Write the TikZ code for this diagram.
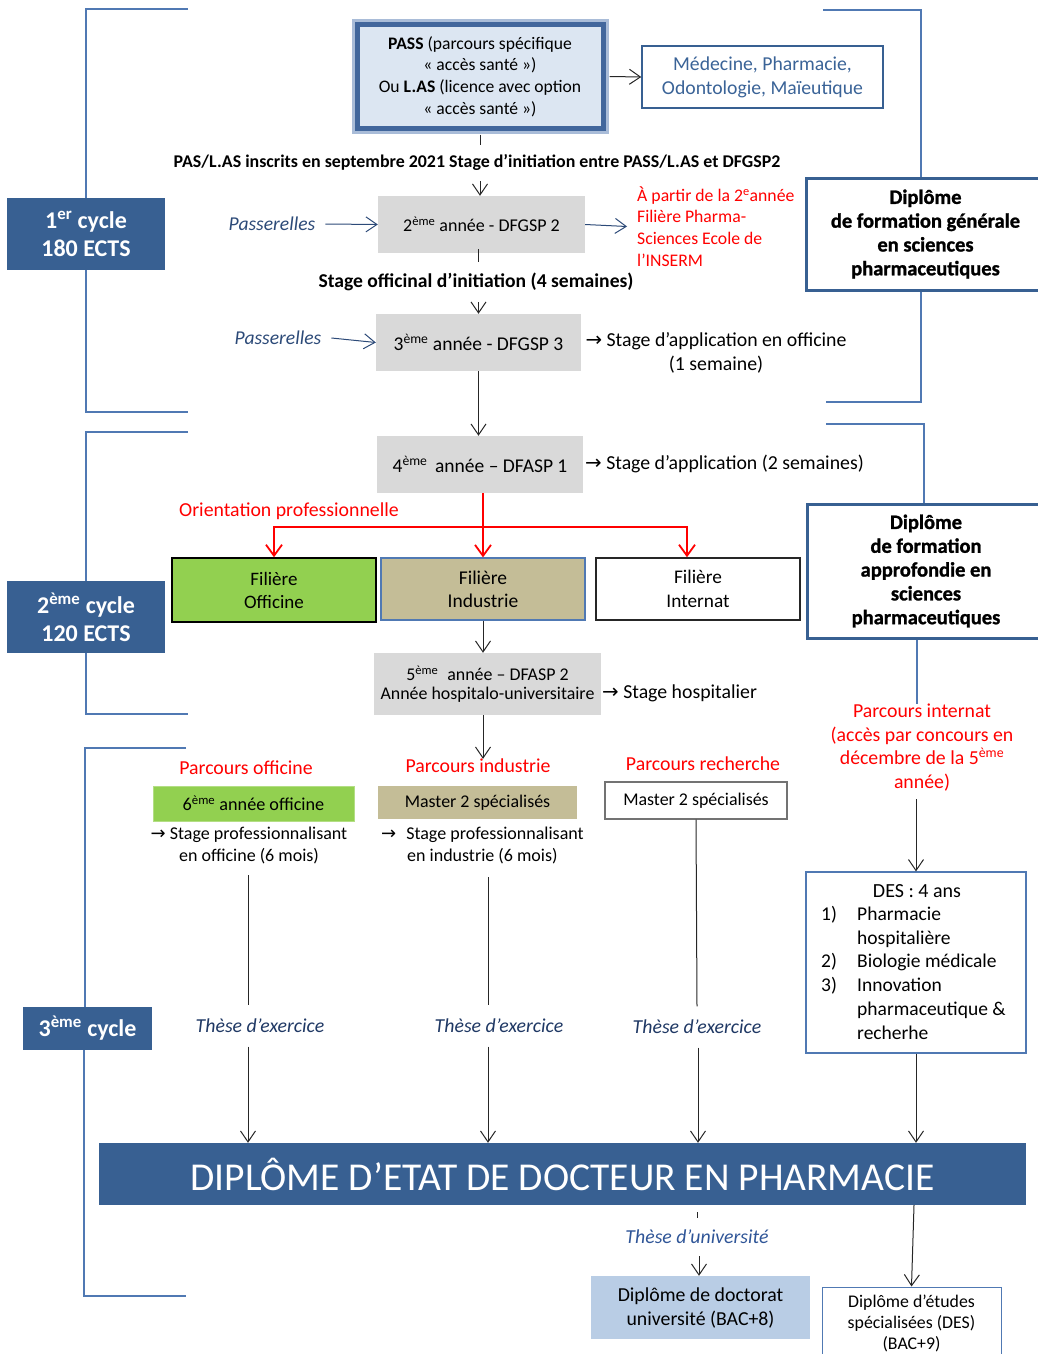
\documentclass[tikz,border=0pt]{standalone}
\usepackage{fontspec}
\setmainfont{Carlito}
\newfontfamily\arrowfont{DejaVu Sans}
\newfontfamily\heavyfont{Carlito}[BoldFeatures={FakeBold=1.2}]
\usetikzlibrary{arrows.meta}
\newcommand{\rarr}{{\arrowfont\symbol{"2192}}}
\definecolor{cycblue}{HTML}{386092}
\definecolor{brkcol}{HTML}{5079B3}
\definecolor{boxgray}{HTML}{D9D9D9}
\definecolor{ogreen}{HTML}{92D050}
\definecolor{indtan}{HTML}{C4BD97}
\definecolor{docblue}{HTML}{B9CDE5}
\definecolor{passfill}{HTML}{DCE6F2}
\definecolor{passbord}{HTML}{41669C}
\definecolor{passglow}{HTML}{A9BCD8}
\definecolor{medblue}{HTML}{3A6397}
\definecolor{itblue}{HTML}{2C4A78}
\definecolor{thblue}{HTML}{1F3864}
\definecolor{tublue}{HTML}{2F5597}
\definecolor{redtxt}{HTML}{FF0000}
\begin{document}
\begin{tikzpicture}[x=1pt,y=-1pt,
  every node/.style={inner sep=0pt},
  bracket/.style={draw=brkcol, line width=1.5pt},
  plain/.style={draw=black!85, line width=1pt},
  arr/.style={draw=black!85, line width=1pt, -{Straight Barb[length=11pt,width=15pt]}},
  barr/.style={draw=itblue, line width=1pt, -{Straight Barb[length=11pt,width=15pt]}},
  redarr/.style={draw=redtxt, line width=1.8pt, -{Straight Barb[length=11pt,width=16pt,line width=1.8pt]}},
  cyc/.style={fill=cycblue, text=white, align=center, font=\bfseries\fontsize{24}{28}\selectfont},
  graybox/.style={fill=boxgray, align=center, font=\fontsize{18}{19}\selectfont},
  txt/.style={font=\fontsize{19.8}{24}\selectfont},
  redt/.style={text=redtxt, font=\fontsize{19.8}{23.7}\selectfont},
  pas/.style={text=itblue, font=\itshape\fontsize{19.6}{22}\selectfont, inner xsep=10pt},
  these/.style={text=thblue, font=\itshape\fontsize{19.8}{22}\selectfont, minimum height=41pt},
  dipbox/.style={draw=cycblue, line width=3pt, fill=white, align=center, font=\heavyfont\bfseries\fontsize{20.5}{23.8}\selectfont}
]
\useasboundingbox (0,0) rectangle (1038,1354);
\clip (0,0) rectangle (1038,1354);

% cycle boxes
\node[cyc, minimum width=158pt, minimum height=72pt] (c1) at (86,234) {1\textsuperscript{er} cycle\\180 ECTS};
\node[cyc, minimum width=158pt, minimum height=72pt] (c2) at (86,617) {2\textsuperscript{ème} cycle\\120 ECTS};
\node[cyc, minimum width=129pt, minimum height=43pt] (c3) at (87.5,1028.5) {3\textsuperscript{ème} cycle};

% diploma side boxes
\node[dipbox, minimum width=239pt, minimum height=112pt] (dg1) at (925.5,234) {Diplôme\\de formation générale\\en sciences\\pharmaceutiques};
\node[dipbox, minimum width=238pt, minimum height=134pt] (dg2) at (926,571) {Diplôme\\de formation\\approfondie en\\sciences\\pharmaceutiques};

% brackets
\draw[bracket] (188,9) -| (c1.north);
\draw[bracket] (c1.south) |- (188,412);
\draw[bracket] (188,432) -| (c2.north);
\draw[bracket] (c2.south) |- (188,714);
\draw[bracket] (186,748) -| ([xshift=-2.5pt]c3.north);
\draw[bracket] ([xshift=-3.5pt]c3.south) |- (186,1296);
\draw[bracket] (823,10) -| ([xshift=-4.5pt]dg1.north);
\draw[bracket] ([xshift=-4.5pt]dg1.south) |- (826,402);
\draw[bracket] (826,424) -| ([xshift=-2pt]dg2.north);

% PASS
\node[draw=passbord, line width=5pt, fill=passfill, minimum width=246pt, minimum height=103pt, align=center,
      font=\fontsize{17.6}{21.7}\selectfont, preaction={draw=passglow, line width=11pt}] (pass) at (480,76.5)
  {\textbf{PASS} (parcours spécifique\\« accès santé »)\\Ou \textbf{L.AS} (licence avec option\\« accès santé »)};
\node[draw=cycblue, line width=1.5pt, minimum width=241pt, minimum height=62pt, text=medblue, align=center,
      font=\fontsize{19.7}{24}\selectfont] (med) at (762.5,77) {Médecine, Pharmacie,\\Odontologie, Maïeutique};
\draw[arr] ([xshift=4pt]pass.east) -- (med.west);

\node[font=\bfseries\fontsize{17.9}{20}\selectfont, minimum height=36pt] (l1) at (477,163)
  {PAS/L.AS inscrits en septembre 2021 Stage d’initiation entre PASS/L.AS et DFGSP2};
\node[graybox, minimum width=207pt, minimum height=57pt] (d2) at (481.5,224.5) {2\textsuperscript{ème} année - DFGSP 2};
\draw[plain] ([yshift=-4pt]pass.south) -- (pass.south |- l1.north);
\draw[arr] (pass.south |- l1.south) -- (pass.south |- d2.north);

\node[pas] (pa1) at (272,224) {Passerelles};
\draw[barr] (pa1.east) -- (d2.west);
\node[redt, anchor=west, align=left, inner xsep=10pt, font=\fontsize{17.7}{21.7}\selectfont] (rt) at (627,226.5)
  {À partir de la 2\textsuperscript{e}année\\Filière Pharma-\\Sciences Ecole de\\l’INSERM};
\draw[barr] (d2.east) -- (rt.west);

\node[font=\bfseries\fontsize{19.6}{20}\selectfont, minimum height=40pt] (l2) at (476,282) {Stage officinal d’initiation (4 semaines)};
\node[graybox, minimum width=205pt, minimum height=57pt, font=\fontsize{19.5}{20}\selectfont] (d3) at (478.5,342.5) {3\textsuperscript{ème} année - DFGSP 3};
\draw[plain] ([yshift=4pt]d2.south -| d3.north) -- (d3.north |- l2.north);
\draw[arr] (d3.north |- l2.south) -- (d3.north);

\node[pas] (pa2) at (278,338) {Passerelles};
\draw[barr] (pa2.east) -- (d3.west);
\node[txt, align=center] (sa1) at (716,353) {\rarr{} Stage d’application en officine\\(1 semaine)};

\node[graybox, minimum width=206pt, minimum height=57pt, font=\fontsize{19.5}{20}\selectfont] (d4) at (480,464.5) {4\textsuperscript{ème}\, année – DFASP 1};
\draw[arr] (d3.south) -- (d3.south |- d4.north);
\node[txt, anchor=west, inner xsep=2pt] (sa2) at (583,464) {\rarr{} Stage d’application (2 semaines)};

\node[redt, anchor=west] (ori) at (179,511) {Orientation professionnelle};

% filieres
\node[fill=ogreen, draw=black, line width=1.5pt, minimum width=204pt, minimum height=64pt, align=center,
      font=\fontsize{19}{23}\selectfont] (fo) at (274,590) {Filière\\Officine};
\node[fill=indtan, draw=brkcol, line width=1.2pt, minimum width=204pt, minimum height=62pt, align=center,
      font=\fontsize{19.5}{23}\selectfont] (fi) at (483,589) {Filière\\Industrie};
\node[fill=white, draw=black!85, line width=1.5pt, minimum width=204pt, minimum height=62pt, align=center,
      font=\fontsize{19.3}{23.5}\selectfont] (fn) at (698,589) {Filière\\Internat};
\coordinate (rj) at (483,527);
\draw[redarr] (fi.north |- d4.south) -- (fi.north);
\draw[redarr] (rj) -| (fo.north);
\draw[redarr] (rj) -| ([xshift=-11pt]fn.north);

\node[graybox, minimum width=227pt, minimum height=62pt, font=\fontsize{17.9}{19}\selectfont] (d5) at (487.5,684)
  {5\textsuperscript{ème}\enspace année – DFASP 2\\Année hospitalo-universitaire};
\draw[arr] (fi.south) -- (fi.south |- d5.north);
\node[txt, anchor=west, inner xsep=1pt] (sh) at (601,693) {\rarr{} Stage hospitalier};

% parcours internat
\node[redt, align=center] (pint) at (922,747.5) {Parcours internat\\(accès par concours en\\décembre de la 5\textsuperscript{ème}\\année)};
\draw[bracket] ([xshift=-9pt]dg2.south) -- ([xshift=-9pt]dg2.south |- pint.north);
\node[draw=brkcol, line width=1.2pt, minimum width=220pt, minimum height=181pt] (des) at (916,962.5) {};
\node[font=\fontsize{20}{24}\selectfont] (destitle) at (917,891) {DES : 4 ans};
\node[anchor=north west, align=left, font=\fontsize{19.5}{23.8}\selectfont] (deslist) at (821,903.5)
  {\begin{tabular}{@{}p{36pt}@{}l@{}}
   1) & Pharmacie\\ & hospitalière\\ 2) & Biologie médicale\\ 3) & Innovation\\ & pharmaceutique \&\\ & recherhe
   \end{tabular}};
\draw[arr] ([yshift=-8pt]pint.south -| des.north) -- (des.north);

% parcours officine
\node[redt] (poff) at (246,768) {Parcours officine};
\node[fill=ogreen, draw=ogreen!70!white, line width=0.8pt, minimum width=201pt, minimum height=35pt,
      font=\fontsize{18.2}{20}\selectfont] (m6) at (253.5,803.5) {6\textsuperscript{ème} année officine};
\node[align=center, font=\fontsize{18}{22}\selectfont] (spo) at (249,845) {\rarr{} Stage professionnalisant\\en officine (6 mois)};

% parcours industrie
\node[redt] (pind) at (478,766) {Parcours industrie};
\draw[arr] (fi.south |- d5.south) -- (fi.south |- pind.north);
\node[fill=indtan, minimum width=199pt, minimum height=33pt, font=\fontsize{17.9}{20}\selectfont] (mind) at (477.5,802.5) {Master 2 spécialisés};
\node[anchor=west, align=left, font=\fontsize{18}{22}\selectfont] (spi) at (381,845)
  {\rarr\hspace{10pt}Stage professionnalisant\\\hspace*{26pt}en industrie (6 mois)};

% parcours recherche
\node[redt] (prech) at (703,764) {Parcours recherche};
\node[draw=black!55, line width=1.2pt, minimum width=182pt, minimum height=37pt, font=\fontsize{17.9}{20}\selectfont] (mrech) at (696,800.5) {Master 2 spécialisés};

% theses
\node[these] (th1) at (260,1026) {Thèse d’exercice};
\node[these] (th2) at (499,1026) {Thèse d’exercice};
\node[these] (th3) at (697,1027) {Thèse d’exercice};

% big diploma
\node[fill=cycblue, minimum width=927pt, minimum height=62pt, text=white, font=\fontsize{39.5}{44}\selectfont] (dip) at (562.5,1174)
  {DIPLÔME D’ETAT DE DOCTEUR EN PHARMACIE};

\coordinate (o1) at (248,875);
\coordinate (o2) at (488,877);
\draw[plain] (o1) -- (o1 |- th1.north);
\draw[arr] (o1 |- th1.south) -- (o1 |- dip.north);
\draw[plain] (o2) -- (o2 |- th2.north);
\draw[arr] (o2 |- th2.south) -- (o2 |- dip.north);
\draw[plain] (mrech.south) -- ([xshift=1pt]mrech.south |- th3.north);
\draw[arr] ([xshift=2pt]mrech.south |- th3.south) -- ([xshift=2pt]mrech.south |- dip.north);
\draw[arr] (des.south) -- (des.south |- dip.north);

% below
\node[text=tublue, font=\itshape\fontsize{19.8}{22}\selectfont, minimum height=38pt] (tu) at (697,1237) {Thèse d’université};
\node[fill=docblue, minimum width=219pt, minimum height=63pt, align=center, font=\fontsize{19.8}{24}\selectfont] (doc) at (700.5,1307.5)
  {Diplôme de doctorat\\université (BAC+8)};
\draw[plain] ([yshift=-7pt]dip.south -| tu.north) -- (tu.north);
\draw[arr] ([xshift=2pt]tu.south) -- ([xshift=2pt]tu.south |- doc.north);
\node[draw=brkcol, line width=1pt, fill=white, minimum width=179pt, minimum height=73pt, align=center,
      font=\fontsize{17.8}{21}\selectfont] (desf) at (911.5,1323.5) {Diplôme d’études\\spécialisées (DES)\\(BAC+9)};
\draw[arr] ([xshift=-2pt]dip.south -| des.south) -- (desf.north);
\end{tikzpicture}
\end{document}
